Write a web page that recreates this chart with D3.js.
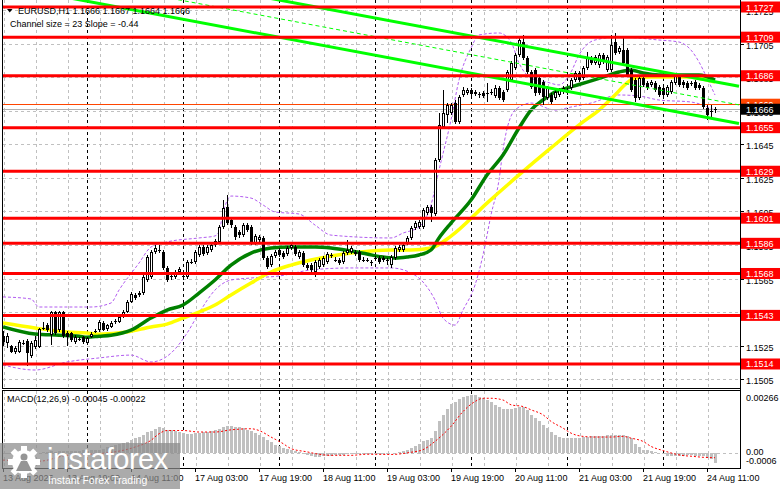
<!DOCTYPE html>
<html>
<head>
<meta charset="utf-8">
<script src="https://cdn.jsdelivr.net/npm/d3@7"></script>
<style>
  body { margin: 0; background: #fff; }
  svg text { font-family: "Liberation Sans", Arial, sans-serif; }
</style>
</head>
<body>
<svg id="chart" width="781" height="489"></svg>
<script>
// EURUSD H1 candles, bar 0 = 13 Aug 03:00
var opens = [1.15306,1.15265,1.15247,1.15211,1.15211,1.15265,1.15277,1.15185,1.15241,1.15241,
1.15354,1.15372,1.15312,1.15450,1.15342,1.15450,1.15324,1.15324,1.15271,1.15289,
1.15300,1.15265,1.15300,1.15336,1.15342,1.15384,1.15348,1.15360,1.15390,1.15390,
1.15420,1.15450,1.15510,1.15551,1.15551,1.15563,1.15641,1.15659,1.15808,1.15820,
1.15808,1.15713,1.15659,1.15659,1.15689,1.15659,1.15659,1.15748,1.15748,1.15790,
1.15838,1.15802,1.15820,1.15850,1.15868,1.15957,1.16076,1.15999,1.15957,1.15927,
1.15909,1.15969,1.15957,1.15862,1.15880,1.15892,1.15772,1.15730,1.15784,1.15820,
1.15802,1.15796,1.15832,1.15838,1.15778,1.15802,1.15730,1.15730,1.15689,1.15719,
1.15730,1.15748,1.15784,1.15760,1.15760,1.15748,1.15802,1.15808,1.15808,1.15808,
1.15760,1.15760,1.15742,1.15772,1.15772,1.15760,1.15760,1.15730,1.15772,1.15820,
1.15820,1.15862,1.15892,1.15951,1.15957,1.15957,1.16040,1.16076,1.16034,1.16357,
1.16554,1.16626,1.16637,1.16697,1.16584,1.16745,1.16757,1.16775,1.16751,1.16745,
1.16757,1.16757,1.16763,1.16739,1.16787,1.16763,1.16775,1.16834,1.16906,1.16984,
1.17061,1.16966,1.16882,1.16894,1.16846,1.16822,1.16727,1.16745,1.16727,1.16745,
1.16763,1.16775,1.16787,1.16834,1.16876,1.16846,1.16906,1.16966,1.16936,1.16924,
1.16984,1.16894,1.16894,1.17061,1.17001,1.17013,1.17013,1.16894,1.16834,1.16727,
1.16846,1.16816,1.16805,1.16816,1.16793,1.16787,1.16745,1.16763,1.16816,1.16852,
1.16822,1.16816,1.16816,1.16822,1.16805,1.16787,1.16667,1.16649,1.16660];
var highs = [1.15336,1.15324,1.15253,1.15247,1.15283,1.15283,1.15289,1.15277,1.15306,1.15354,
1.15390,1.15384,1.15456,1.15456,1.15456,1.15456,1.15336,1.15330,1.15312,1.15300,
1.15306,1.15300,1.15330,1.15348,1.15402,1.15396,1.15378,1.15396,1.15408,1.15432,
1.15462,1.15522,1.15569,1.15563,1.15575,1.15671,1.15790,1.15820,1.15850,1.15850,
1.15820,1.15724,1.15671,1.15701,1.15719,1.15683,1.15760,1.15766,1.15820,1.15850,
1.15850,1.15850,1.15862,1.15886,1.15969,1.16118,1.16148,1.16011,1.15969,1.15939,
1.15981,1.15981,1.15969,1.15915,1.15909,1.15904,1.15784,1.15796,1.15820,1.15832,
1.15814,1.15844,1.15862,1.15850,1.15820,1.15814,1.15742,1.15742,1.15760,1.15772,
1.15784,1.15808,1.15802,1.15778,1.15772,1.15814,1.15880,1.15844,1.15820,1.15820,
1.15778,1.15772,1.15760,1.15784,1.15784,1.15784,1.15772,1.15790,1.15844,1.15850,
1.15862,1.15904,1.15963,1.15993,1.15999,1.16070,1.16088,1.16088,1.16369,1.16637,
1.16775,1.16697,1.16697,1.16715,1.16745,1.16793,1.16787,1.16787,1.16775,1.16763,
1.16769,1.16816,1.16781,1.16805,1.16799,1.16775,1.16894,1.16948,1.16995,1.17091,
1.17103,1.16978,1.16894,1.16906,1.16858,1.16834,1.16799,1.16757,1.16775,1.16787,
1.16799,1.16787,1.16846,1.16888,1.16888,1.16918,1.17001,1.16978,1.16984,1.16995,
1.16995,1.16984,1.17103,1.17115,1.17037,1.17091,1.17025,1.16906,1.16846,1.16858,
1.16858,1.16828,1.16834,1.16828,1.16805,1.16799,1.16805,1.16834,1.16876,1.16864,
1.16834,1.16828,1.16828,1.16834,1.16816,1.16799,1.16685,1.16685,1.16672];
var lows = [1.15247,1.15235,1.15205,1.15199,1.15205,1.15253,1.15126,1.15174,1.15229,1.15235,
1.15342,1.15330,1.15253,1.15312,1.15330,1.15294,1.15247,1.15271,1.15259,1.15277,
1.15259,1.15253,1.15294,1.15324,1.15330,1.15336,1.15336,1.15354,1.15378,1.15384,
1.15414,1.15444,1.15504,1.15522,1.15540,1.15551,1.15629,1.15647,1.15796,1.15802,
1.15701,1.15629,1.15641,1.15647,1.15677,1.15641,1.15647,1.15736,1.15736,1.15778,
1.15784,1.15790,1.15808,1.15838,1.15856,1.15945,1.15969,1.15951,1.15880,1.15892,
1.15898,1.15927,1.15850,1.15850,1.15868,1.15760,1.15707,1.15719,1.15772,1.15778,
1.15766,1.15784,1.15820,1.15784,1.15766,1.15719,1.15701,1.15671,1.15659,1.15707,
1.15719,1.15736,1.15772,1.15748,1.15730,1.15736,1.15790,1.15796,1.15784,1.15748,
1.15748,1.15748,1.15724,1.15760,1.15736,1.15748,1.15730,1.15713,1.15760,1.15808,
1.15808,1.15850,1.15880,1.15939,1.15945,1.15945,1.16029,1.15987,1.16023,1.16345,
1.16542,1.16578,1.16626,1.16572,1.16572,1.16733,1.16745,1.16739,1.16739,1.16727,
1.16727,1.16703,1.16745,1.16727,1.16715,1.16703,1.16763,1.16822,1.16894,1.16972,
1.16954,1.16870,1.16781,1.16739,1.16745,1.16685,1.16715,1.16691,1.16715,1.16733,
1.16751,1.16745,1.16775,1.16822,1.16822,1.16834,1.16894,1.16924,1.16924,1.16906,
1.16930,1.16882,1.16882,1.16984,1.16990,1.16924,1.16852,1.16763,1.16703,1.16715,
1.16793,1.16775,1.16793,1.16763,1.16733,1.16733,1.16733,1.16751,1.16805,1.16793,
1.16787,1.16775,1.16799,1.16775,1.16775,1.16661,1.16596,1.16608,1.16638];
var closes = [1.15271,1.15306,1.15211,1.15235,1.15271,1.15268,1.15205,1.15265,1.15283,1.15348,
1.15357,1.15342,1.15450,1.15324,1.15450,1.15306,1.15300,1.15283,1.15300,1.15292,
1.15271,1.15294,1.15318,1.15338,1.15390,1.15342,1.15372,1.15384,1.15396,1.15420,
1.15450,1.15510,1.15557,1.15534,1.15563,1.15659,1.15778,1.15808,1.15832,1.15823,
1.15713,1.15641,1.15662,1.15689,1.15707,1.15662,1.15748,1.15751,1.15808,1.15838,
1.15796,1.15838,1.15850,1.15874,1.15957,1.16070,1.15981,1.15969,1.15898,1.15909,
1.15969,1.15939,1.15868,1.15904,1.15898,1.15772,1.15719,1.15784,1.15808,1.15790,
1.15778,1.15832,1.15850,1.15796,1.15808,1.15730,1.15713,1.15701,1.15748,1.15760,
1.15772,1.15796,1.15790,1.15763,1.15742,1.15802,1.15820,1.15832,1.15796,1.15760,
1.15757,1.15763,1.15748,1.15775,1.15748,1.15772,1.15763,1.15778,1.15832,1.15838,
1.15850,1.15892,1.15951,1.15981,1.15987,1.16058,1.16076,1.16040,1.16357,1.16566,
1.16637,1.16685,1.16685,1.16584,1.16733,1.16775,1.16775,1.16751,1.16763,1.16748,
1.16739,1.16754,1.16760,1.16787,1.16727,1.16715,1.16882,1.16936,1.16984,1.17073,
1.16966,1.16882,1.16793,1.16757,1.16757,1.16733,1.16787,1.16703,1.16763,1.16775,
1.16787,1.16757,1.16834,1.16876,1.16834,1.16906,1.16966,1.16936,1.16972,1.16984,
1.16942,1.16972,1.17043,1.16995,1.17025,1.16936,1.16864,1.16775,1.16727,1.16846,
1.16805,1.16787,1.16822,1.16775,1.16745,1.16745,1.16793,1.16822,1.16864,1.16805,
1.16805,1.16787,1.16810,1.16787,1.16787,1.16673,1.16626,1.16652,1.16662];

var timeLabels = ["13 Aug 2026","13 Aug 19:00","14 Aug 11:00","17 Aug 03:00","17 Aug 19:00","18 Aug 11:00",
                  "19 Aug 03:00","19 Aug 19:00","20 Aug 11:00","21 Aug 03:00","21 Aug 19:00","24 Aug 11:00"];
var dayStartBars = [21, 45, 69, 93, 117, 141, 165];
var priceTicks = [1.1725,1.1705,1.1685,1.1665,1.1645,1.1625,1.1605,1.1585,1.1565,1.1545,1.1525,1.1505];
var levels = [1.1727,1.1709,1.1686,1.1655,1.1629,1.1601,1.1586,1.1568,1.1543,1.1514];
var askPrice = 1.1669, bidPrice = 1.1666;

// moving averages / bands as [bar, price]
var maGreen = [[0,1.15361],[8,1.15319],[14,1.15312],[19,1.15306],[21,1.15300],[24,1.15306],[27,1.15312],[32,1.15342],
[37,1.15414],[41,1.15462],[45,1.15492],[49,1.15563],[53,1.15641],[57,1.15730],[62,1.15802],[67,1.15832],[72,1.15838],
[78,1.15838],[82,1.15832],[87,1.15814],[91,1.15796],[95,1.15778],[98,1.15772],[101,1.15778],[104,1.15790],[107,1.15820],
[109,1.15892],[112,1.15981],[117,1.16118],[121,1.16268],[125,1.16387],[129,1.16548],[132,1.16655],[135,1.16715],
[138,1.16763],[142,1.16793],[146,1.16822],[150,1.16852],[154,1.16882],[157,1.16894],[160,1.16876],[164,1.16864],
[169,1.16864],[174,1.16864],[178,1.16834]];
var maYellow = [[0,1.15384],[8,1.15355],[16,1.15331],[21,1.15325],[24,1.15318],[31,1.15331],[37,1.15361],[41,1.15378],
[45,1.15414],[49,1.15450],[53,1.15492],[57,1.15552],[62,1.15623],[67,1.15689],[72,1.15730],[77,1.15760],[82,1.15784],
[87,1.15802],[92,1.15814],[97,1.15820],[102,1.15820],[107,1.15832],[112,1.15903],[121,1.16100],[129,1.16268],
[137,1.16429],[145,1.16584],[149,1.16655],[153,1.16745],[156,1.16817],[158,1.16846],[162,1.16852],[171,1.16852],[178,1.16822]];
var bbUpper = [[0,1.15540],[7,1.15528],[9,1.15480],[22,1.15480],[27,1.15504],[29,1.15581],[34,1.15742],[37,1.15838],
[41,1.15868],[49,1.15892],[53,1.15904],[54,1.15930],[55,1.16040],[57,1.16142],[62,1.16130],[65,1.16089],[68,1.16047],
[74,1.16035],[78,1.15969],[82,1.15909],[97,1.15892],[100,1.15921],[104,1.15957],[107,1.16089],[109,1.16297],[112,1.16596],
[114,1.16834],[117,1.17025],[119,1.17103],[124,1.17115],[127,1.17061],[129,1.16936],[132,1.16846],[136,1.16822],
[139,1.16805],[142,1.16882],[144,1.16984],[148,1.17073],[154,1.17091],[164,1.17073],[169,1.17061],[172,1.17013],
[174,1.16942],[176,1.16846],[178,1.16745]];
var bbLower = [[0,1.15134],[8,1.15104],[16,1.15152],[24,1.15176],[32,1.15193],[37,1.15152],[42,1.15205],[46,1.15324],
[49,1.15444],[53,1.15581],[57,1.15641],[62,1.15653],[69,1.15665],[77,1.15701],[87,1.15713],[97,1.15713],[102,1.15683],
[105,1.15629],[108,1.15522],[110,1.15414],[113,1.15372],[115,1.15462],[118,1.15611],[120,1.15790],[122,1.16029],
[124,1.16238],[125,1.16417],[128,1.16655],[132,1.16697],[138,1.16655],[142,1.16673],[147,1.16697],[154,1.16745],
[159,1.16739],[164,1.16715],[172,1.16703],[178,1.16654]];

// regression channel centre line, half width in price
var channelMid = [[-1, 1.17514], [184, 1.16686]];
var channelHalf = 0.00111;

var macdHist = [-0.00002,-0.00003,-0.00004,-0.00005,-0.00005,-0.00004,-0.00006,-0.00004,-0.00002,0.00001,
0.00004,0.00005,0.00008,0.00006,0.00008,0.00010,0.00009,0.00010,0.00011,0.00011,
0.00012,0.00011,0.00012,0.00012,0.00014,0.00018,0.00028,0.00030,0.00036,0.00040,
0.00046,0.00051,0.00060,0.00068,0.00075,0.00084,0.00095,0.00101,0.00108,0.00120,
0.00115,0.00106,0.00104,0.00102,0.00095,0.00090,0.00087,0.00088,0.00090,0.00093,
0.00094,0.00096,0.00100,0.00104,0.00112,0.00119,0.00123,0.00124,0.00121,0.00117,
0.00113,0.00107,0.00100,0.00093,0.00082,0.00072,0.00060,0.00050,0.00038,0.00030,
0.00022,0.00016,0.00012,0.00008,0.00002,-0.00006,-0.00010,-0.00015,-0.00019,-0.00018,
-0.00016,-0.00014,-0.00012,-0.00011,-0.00010,-0.00008,-0.00007,-0.00006,-0.00005,-0.00004,
-0.00005,-0.00006,-0.00007,-0.00006,-0.00006,-0.00005,-0.00004,-0.00002,0.00000,0.00003,
0.00008,0.00015,0.00023,0.00030,0.00043,0.00053,0.00061,0.00068,0.00099,0.00145,
0.00175,0.00201,0.00225,0.00236,0.00248,0.00255,0.00262,0.00266,0.00264,0.00255,
0.00251,0.00244,0.00233,0.00222,0.00210,0.00200,0.00200,0.00204,0.00207,0.00213,
0.00213,0.00198,0.00175,0.00160,0.00145,0.00130,0.00114,0.00095,0.00084,0.00073,
0.00068,0.00068,0.00068,0.00068,0.00070,0.00072,0.00073,0.00076,0.00076,0.00079,
0.00079,0.00081,0.00084,0.00084,0.00084,0.00084,0.00076,0.00068,0.00040,0.00025,
0.00015,0.00012,0.00008,0.00004,0.00000,-0.00006,-0.00015,-0.00016,-0.00013,-0.00012,
-0.00012,-0.00010,-0.00009,-0.00012,-0.00012,-0.00016,-0.00023,-0.00027,-0.00045];
var macdSignal = [[0,-0.00033],[9,-0.00038],[16,-0.00011],[24,-0.00003],[28,0.00005],[33,0.00027],[37,0.00058],
[39,0.00088],[41,0.00103],[45,0.00103],[49,0.00096],[53,0.00096],[57,0.00106],[62,0.00111],[64,0.00103],[67,0.00073],
[70,0.00043],[72,0.00020],[76,0.00005],[79,-0.00006],[82,-0.00011],[87,-0.00011],[91,-0.00006],[97,-0.00007],
[102,0.00003],[105,0.00015],[108,0.00053],[112,0.00122],[115,0.00190],[118,0.00236],[120,0.00251],[122,0.00251],
[125,0.00243],[127,0.00221],[130,0.00213],[132,0.00198],[135,0.00175],[137,0.00145],[140,0.00114],[142,0.00091],
[145,0.00076],[148,0.00073],[152,0.00073],[155,0.00076],[157,0.00068],[160,0.00053],[162,0.00030],[165,0.00011],
[167,0.00000],[170,-0.00012],[172,-0.00015],[175,-0.00020],[178,-0.00022]];
var macdTicks = ["0.00266", "0.00", "-0.0006"];

drawChart();

function drawChart() {
  var svg = d3.select("#chart");
  var right = 740, mainBottom = 388, subTop = 391, subBottom = 468;

  var x = d3.scaleLinear().domain([0, 178]).range([3, 715]);
  var y = d3.scaleLinear().domain([1.1505, 1.1727]).range([379.07, 7]);
  var ym = d3.scaleLinear().domain([-0.0006, 0.00266]).range([466, 395]);

  var defs = svg.append("defs");
  defs.append("clipPath").attr("id", "clipMain").append("rect")
      .attr("x", 3).attr("y", 0).attr("width", right - 3).attr("height", mainBottom);
  defs.append("clipPath").attr("id", "clipSub").append("rect")
      .attr("x", 3).attr("y", subTop).attr("width", right - 3).attr("height", subBottom - subTop);

  svg.append("rect").attr("width", 781).attr("height", 489).attr("fill", "#fff");

  var g = svg.append("g").attr("clip-path", "url(#clipMain)");
  var gs = svg.append("g").attr("clip-path", "url(#clipSub)");

  // grid
  priceTicks.forEach(function (t) {
    g.append("line").attr("x1", 3).attr("x2", right)
      .attr("y1", Math.round(y(t)) + 0.5).attr("y2", Math.round(y(t)) + 0.5)
      .attr("stroke", "#c0c0c0").attr("stroke-dasharray", "3,3");
  });
  for (var k = 0; k * 8 <= 184; k++) {
    var gx = x(k * 8) + 1.5;
    [[g, 0, mainBottom], [gs, subTop, subBottom]].forEach(function (p) {
      p[0].append("line").attr("x1", gx).attr("x2", gx).attr("y1", p[1]).attr("y2", p[2])
        .attr("stroke", "#c0c0c0").attr("stroke-dasharray", "3,3");
    });
  }
  dayStartBars.forEach(function (i) {
    var sx = x(i) + 0.5;
    [[g, 0, mainBottom], [gs, subTop, subBottom]].forEach(function (p) {
      p[0].append("line").attr("x1", sx).attr("x2", sx).attr("y1", p[1]).attr("y2", p[2])
        .attr("stroke", "#000").attr("stroke-dasharray", "3,3");
    });
  });

  // bollinger bands
  var line = d3.line().x(function (d) { return x(d[0]); }).y(function (d) { return y(d[1]); })
      .curve(d3.curveMonotoneX);
  [bbUpper, bbLower].forEach(function (b) {
    g.append("path").datum(b).attr("d", line).attr("fill", "none")
      .attr("stroke", "#b25cf0").attr("stroke-width", 1).attr("stroke-dasharray", "3,2");
  });

  // moving averages
  g.append("path").datum(maYellow).attr("d", line).attr("fill", "none")
    .attr("stroke", "#ffff00").attr("stroke-width", 3.5);
  g.append("path").datum(maGreen).attr("d", line).attr("fill", "none")
    .attr("stroke", "#008000").attr("stroke-width", 3.5);

  // bid / ask lines
  g.append("line").attr("x1", 3).attr("x2", right)
    .attr("y1", Math.round(y(askPrice)) + 0.5).attr("y2", Math.round(y(askPrice)) + 0.5)
    .attr("stroke", "#ff4500").attr("stroke-width", 1);
  g.append("line").attr("x1", 3).attr("x2", right)
    .attr("y1", Math.round(y(bidPrice)) + 0.5).attr("y2", Math.round(y(bidPrice)) + 0.5)
    .attr("stroke", "#b0b0b0").attr("stroke-width", 1);

  // candles
  var cg = g.append("g").attr("shape-rendering", "crispEdges");
  opens.forEach(function (o, i) {
    var c = closes[i], xi = Math.round(x(i));
    var yh = Math.round(y(highs[i])), yl = Math.round(y(lows[i]));
    var top = Math.round(y(Math.max(o, c))), bot = Math.round(y(Math.min(o, c)));
    if (bot - top < 1) bot = top + 1;
    cg.append("rect").attr("x", xi).attr("y", yh).attr("width", 1).attr("height", Math.max(1, yl - yh)).attr("fill", "#000");
    cg.append("rect").attr("x", xi - 1).attr("y", top).attr("width", 3).attr("height", bot - top).attr("fill", "#000");
    if (c > o && bot - top > 2) {
      cg.append("rect").attr("x", xi).attr("y", top + 1).attr("width", 1).attr("height", bot - top - 2).attr("fill", "#fff");
    }
  });

  // regression channel
  var chLine = function (off) {
    return d3.line().x(function (d) { return x(d[0]); }).y(function (d) { return y(d[1] + off); })(channelMid);
  };
  g.append("path").attr("d", chLine(channelHalf)).attr("stroke", "#00ff00").attr("stroke-width", 3).attr("fill", "none");
  g.append("path").attr("d", chLine(-channelHalf)).attr("stroke", "#00ff00").attr("stroke-width", 3).attr("fill", "none");
  g.append("path").attr("d", chLine(0)).attr("stroke", "#00ff00").attr("stroke-width", 1)
    .attr("stroke-dasharray", "4,3").attr("fill", "none");

  // horizontal levels
  levels.forEach(function (l) {
    g.append("line").attr("x1", 3).attr("x2", right).attr("y1", y(l)).attr("y2", y(l))
      .attr("stroke", "#ff0000").attr("stroke-width", 3);
  });

  // MACD histogram and signal
  var hg = gs.append("g").attr("shape-rendering", "crispEdges");
  gs.append("line").attr("x1", 3).attr("x2", right).attr("y1", Math.round(ym(0)) + 0.5).attr("y2", Math.round(ym(0)) + 0.5)
    .attr("stroke", "#c0c0c0").attr("stroke-dasharray", "3,3");
  macdHist.forEach(function (v, i) {
    var a = Math.round(ym(Math.max(v, 0))), b = Math.round(ym(Math.min(v, 0)));
    if (b - a < 1) return;
    hg.append("rect").attr("x", Math.round(x(i)) - 1).attr("y", a).attr("width", 3).attr("height", b - a).attr("fill", "#c0c0c0");
  });
  gs.append("path").datum(macdSignal)
    .attr("d", d3.line().x(function (d) { return x(d[0]); }).y(function (d) { return ym(d[1]); }).curve(d3.curveMonotoneX))
    .attr("fill", "none").attr("stroke", "#ff0000").attr("stroke-width", 1).attr("stroke-dasharray", "2,2");

  // frames
  var fr = svg.append("g").attr("stroke", "#000").attr("shape-rendering", "crispEdges");
  fr.append("line").attr("x1", 2.5).attr("x2", 2.5).attr("y1", 0).attr("y2", mainBottom);
  fr.append("line").attr("x1", 2.5).attr("x2", 2.5).attr("y1", subTop - 1).attr("y2", subBottom);
  fr.append("line").attr("x1", right + 0.5).attr("x2", right + 0.5).attr("y1", 0).attr("y2", subBottom + 1);
  fr.append("line").attr("x1", 2).attr("x2", right + 1).attr("y1", mainBottom + 0.5).attr("y2", mainBottom + 0.5);
  fr.append("line").attr("x1", 2).attr("x2", right + 1).attr("y1", subTop - 0.5).attr("y2", subTop - 0.5);
  fr.append("line").attr("x1", 2).attr("x2", right + 1).attr("y1", subBottom + 0.5).attr("y2", subBottom + 0.5);

  // price axis
  var ax = svg.append("g").attr("font-size", 9);
  priceTicks.forEach(function (t) {
    var ty = Math.round(y(t)) + 0.5;
    ax.append("line").attr("x1", right).attr("x2", right + 4).attr("y1", ty).attr("y2", ty).attr("stroke", "#000");
    ax.append("text").attr("x", 746).attr("y", ty + 1).attr("dominant-baseline", "central").text(t.toFixed(4));
  });
  function priceTag(v, bg) {
    var ty = y(v);
    ax.append("rect").attr("x", 741).attr("y", ty - 5.5).attr("width", 39).attr("height", 11).attr("fill", bg);
    ax.append("text").attr("x", 746).attr("y", ty + 0.5).attr("dominant-baseline", "central")
      .attr("fill", "#fff").text(v.toFixed(4));
  }
  levels.forEach(function (l) { priceTag(l, "#ff0000"); });
  priceTag(askPrice, "#ff4500");
  priceTag(bidPrice, "#000");

  // MACD axis
  var mLab = [[ym(0.00266) + 2.5, macdTicks[0]], [ym(0) - 0.5, macdTicks[1]], [ym(-0.0006) - 5, macdTicks[2]]];
  mLab.forEach(function (m) {
    ax.append("text").attr("x", 746).attr("y", m[0]).attr("dominant-baseline", "central").text(m[1]);
  });

  // time axis
  timeLabels.forEach(function (t, k) {
    var tx = x(k * 16);
    ax.append("line").attr("x1", tx + 0.5).attr("x2", tx + 0.5).attr("y1", subBottom).attr("y2", subBottom + 4).attr("stroke", "#000");
    ax.append("text").attr("x", tx).attr("y", 478).attr("dominant-baseline", "central").text(t);
  });

  // header texts
  var hd = svg.append("g").attr("font-size", 9);
  hd.append("path").attr("d", "M7,9 L12.5,9 L9.75,12.5 Z").attr("fill", "#000");
  hd.append("text").attr("x", 18).attr("y", 11).attr("dominant-baseline", "central")
    .text("EURUSD,H1  1.1666 1.1667 1.1664 1.1666");
  hd.append("text").attr("x", 10).attr("y", 24).attr("dominant-baseline", "central")
    .text("Channel size = 23 Slope = -0.44");
  hd.append("text").attr("x", 7).attr("y", 399).attr("dominant-baseline", "central")
    .text("MACD(12,26,9) -0.00045 -0.00022");

  // watermark
  var wm = svg.append("g");
  wm.append("rect").attr("x", 0).attr("y", 443).attr("width", 180).attr("height", 46)
    .attr("fill", "#8a8a8a").attr("opacity", 0.72);
  var cx = 24, cy = 462;
  for (var t = 0; t < 8; t++) {
    wm.append("rect").attr("x", cx - 3).attr("y", cy - 16).attr("width", 6).attr("height", 6)
      .attr("fill", "#fff").attr("transform", "rotate(" + (t * 45) + "," + cx + "," + cy + ")");
  }
  wm.append("circle").attr("cx", cx).attr("cy", cy).attr("r", 12).attr("fill", "#fff");
  wm.append("circle").attr("cx", cx).attr("cy", cy - 5).attr("r", 3.5).attr("fill", "#959595");
  wm.append("path").attr("d", "M" + (cx - 8) + "," + (cy + 9) + " L" + (cx - 3) + "," + (cy - 1) + " L" + (cx + 3) + "," + (cy - 1) + " L" + (cx + 8) + "," + (cy + 9) + " Z")
    .attr("fill", "#959595");
  wm.append("text").attr("x", 47).attr("y", 469).attr("font-size", 29).attr("fill", "#fff")
    .attr("letter-spacing", -0.5).text("instaforex");
  wm.append("text").attr("x", 48).attr("y", 484).attr("font-size", 10.5).attr("fill", "#fff")
    .text("Instant Forex Trading");
}
</script>
</body>
</html>
